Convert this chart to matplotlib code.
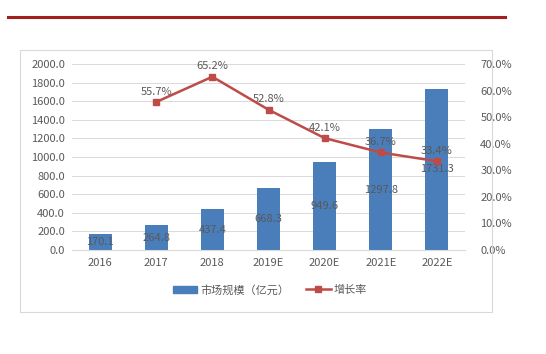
import matplotlib
matplotlib.use("Agg")
import matplotlib.pyplot as plt
from matplotlib.patches import Rectangle
from matplotlib.lines import Line2D

plt.rcParams['font.family'] = ['Noto Sans CJK SC', 'DejaVu Sans']

categories = ["2016", "2017", "2018", "2019E", "2020E", "2021E", "2022E"]
market_size = [170.1, 264.8, 437.4, 668.3, 949.6, 1297.8, 1731.3]
growth_cats = ["2017", "2018", "2019E", "2020E", "2021E", "2022E"]
growth_rate = [55.7, 65.2, 52.8, 42.1, 36.7, 33.4]
left_ticks = [0, 200, 400, 600, 800, 1000, 1200, 1400, 1600, 1800, 2000]
right_ticks = [0, 10, 20, 30, 40, 50, 60, 70]

W, H = 546, 354
fig = plt.figure(figsize=(W / 100, H / 100), dpi=100)

# header red line
fig.add_artist(Line2D([8 / W, 505 / W], [1 - 17 / H, 1 - 17 / H], color="#A11F1F", lw=2.2))
# chart frame
fig.add_artist(Rectangle((20 / W, 1 - 312 / H), 472 / W, 262 / H, fill=False,
                         edgecolor="#D9D9D9", lw=0.8))

ax = fig.add_axes([72 / W, 1 - 250 / H, 393 / W, 186 / H])
ax2 = ax.twinx()

text_col = "#595959"
bar_col = "#4A7EBB"
line_col = "#BE4B48"
fs = 8

x = list(range(len(categories)))
ax.bar(x, market_size, width=0.41, color=bar_col, zorder=2)
for xi, v in zip(x, market_size):
    ax.text(xi, v / 2, f"{v:.1f}", ha="center", va="center", fontsize=fs, color=text_col, zorder=5)

ax.set_xlim(-0.5, len(categories) - 0.5)
ax.set_ylim(0, 2000)
ax.set_yticks(left_ticks)
ax.set_yticklabels([f"{t:.1f}" for t in left_ticks])
ax.set_xticks(x)
ax.set_xticklabels(categories)
ax.grid(axis="y", color="#D9D9D9", lw=0.7, zorder=0)
ax.set_axisbelow(True)
for s in ax.spines.values():
    s.set_visible(False)
ax.spines["bottom"].set_visible(True)
ax.spines["bottom"].set_color("#D9D9D9")
ax.tick_params(axis="both", length=0, labelsize=fs, colors=text_col)
ax.tick_params(axis="x", pad=6)
ax.tick_params(axis="y", pad=5)

gx = [categories.index(c) for c in growth_cats]
ax2.plot(gx, growth_rate, color=line_col, lw=1.8, marker="s", markersize=4, zorder=4)
for xi, v in zip(gx, growth_rate):
    ax2.text(xi, v + 2.0, f"{v:.1f}%", ha="center", va="bottom", fontsize=fs, color=text_col)
ax2.set_ylim(0, 70)
ax2.set_yticks(right_ticks)
ax2.set_yticklabels([f"{t:.1f}%" for t in right_ticks])
for s in ax2.spines.values():
    s.set_visible(False)
ax2.tick_params(axis="y", length=0, labelsize=fs, colors=text_col, pad=11)

handles = [Rectangle((0, 0), 1, 1, color=bar_col),
           Line2D([], [], color=line_col, lw=1.8, marker="s", markersize=4)]
fig.legend(handles, ["市场规模（亿元）", "增长率"], loc="center", bbox_to_anchor=(270 / W, 1 - 290 / H),
           ncol=2, frameon=False, fontsize=fs, labelcolor=text_col, handlelength=2.2,
           columnspacing=1.5, handletextpad=0.3)

fig.savefig("out.png", dpi=100)
